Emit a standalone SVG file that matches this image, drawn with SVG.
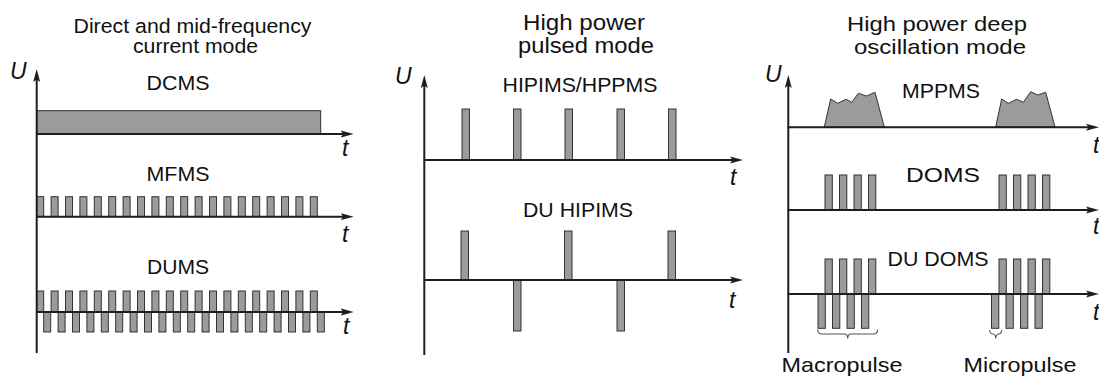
<svg xmlns="http://www.w3.org/2000/svg" width="1099" height="376" viewBox="0 0 1099 376">
<style>
text{font-family:"Liberation Sans",Arial,sans-serif;fill:#111}
.ttl{font-size:20px;text-anchor:middle}
.ttl2{font-size:21.5px;text-anchor:middle}
.ttl3{font-size:21px;text-anchor:middle}
.lbl{font-size:21px;text-anchor:middle}
.var{font-size:23px;font-style:italic}
.ax{stroke:#1e1e1e;stroke-width:2;fill:none}
.ar{marker-end:url(#arr)}
.p{fill:#9b9b9b;stroke:#333;stroke-width:1}
.br{fill:none;stroke:#555;stroke-width:1.1}
</style>
<defs>
<marker id="arr" markerUnits="userSpaceOnUse" markerWidth="14" markerHeight="9" refX="4" refY="4" orient="auto">
<path d="M0,0.5 L13,4 L0,7.5 L2.5,4 z" fill="#1e1e1e"/>
</marker>
</defs>
<rect width="1099" height="376" fill="#fff"/>

<g id="titles">
<text class="ttl" x="192.5" y="33" textLength="238" lengthAdjust="spacingAndGlyphs">Direct and mid-frequency</text>
<text class="ttl" x="195.5" y="53" textLength="125" lengthAdjust="spacingAndGlyphs">current mode</text>
<text class="ttl2" x="584" y="30" textLength="122" lengthAdjust="spacingAndGlyphs">High power</text>
<text class="ttl2" x="586" y="53" textLength="136" lengthAdjust="spacingAndGlyphs">pulsed mode</text>
<text class="ttl3" x="937" y="31" textLength="180" lengthAdjust="spacingAndGlyphs">High power deep</text>
<text class="ttl3" x="940" y="54" textLength="172" lengthAdjust="spacingAndGlyphs">oscillation mode</text>
</g>

<g id="dcms">
<rect class="p" x="36.7" y="110.7" width="284" height="23.3"/>
<text class="lbl" x="178" y="90" textLength="63" lengthAdjust="spacingAndGlyphs">DCMS</text>
</g>

<g id="mfms">
<text class="lbl" x="178" y="181" textLength="63" lengthAdjust="spacingAndGlyphs">MFMS</text>
<rect class="p" x="36.7" y="196.7" width="7" height="20"/>
<rect class="p" x="51.1" y="196.7" width="7" height="20"/>
<rect class="p" x="65.5" y="196.7" width="7" height="20"/>
<rect class="p" x="79.9" y="196.7" width="7" height="20"/>
<rect class="p" x="94.3" y="196.7" width="7" height="20"/>
<rect class="p" x="108.7" y="196.7" width="7" height="20"/>
<rect class="p" x="123.1" y="196.7" width="7" height="20"/>
<rect class="p" x="137.5" y="196.7" width="7" height="20"/>
<rect class="p" x="151.9" y="196.7" width="7" height="20"/>
<rect class="p" x="166.3" y="196.7" width="7" height="20"/>
<rect class="p" x="180.7" y="196.7" width="7" height="20"/>
<rect class="p" x="195.1" y="196.7" width="7" height="20"/>
<rect class="p" x="209.5" y="196.7" width="7" height="20"/>
<rect class="p" x="223.9" y="196.7" width="7" height="20"/>
<rect class="p" x="238.3" y="196.7" width="7" height="20"/>
<rect class="p" x="252.7" y="196.7" width="7" height="20"/>
<rect class="p" x="267.1" y="196.7" width="7" height="20"/>
<rect class="p" x="281.5" y="196.7" width="7" height="20"/>
<rect class="p" x="295.9" y="196.7" width="7" height="20"/>
<rect class="p" x="310.3" y="196.7" width="7" height="20"/>
</g>

<g id="dums">
<text class="lbl" x="178" y="274" textLength="62" lengthAdjust="spacingAndGlyphs">DUMS</text>
<rect class="p" x="36.7" y="291" width="7" height="21"/>
<rect class="p" x="51.1" y="291" width="7" height="21"/>
<rect class="p" x="65.5" y="291" width="7" height="21"/>
<rect class="p" x="79.9" y="291" width="7" height="21"/>
<rect class="p" x="94.3" y="291" width="7" height="21"/>
<rect class="p" x="108.7" y="291" width="7" height="21"/>
<rect class="p" x="123.1" y="291" width="7" height="21"/>
<rect class="p" x="137.5" y="291" width="7" height="21"/>
<rect class="p" x="151.9" y="291" width="7" height="21"/>
<rect class="p" x="166.3" y="291" width="7" height="21"/>
<rect class="p" x="180.7" y="291" width="7" height="21"/>
<rect class="p" x="195.1" y="291" width="7" height="21"/>
<rect class="p" x="209.5" y="291" width="7" height="21"/>
<rect class="p" x="223.9" y="291" width="7" height="21"/>
<rect class="p" x="238.3" y="291" width="7" height="21"/>
<rect class="p" x="252.7" y="291" width="7" height="21"/>
<rect class="p" x="267.1" y="291" width="7" height="21"/>
<rect class="p" x="281.5" y="291" width="7" height="21"/>
<rect class="p" x="295.9" y="291" width="7" height="21"/>
<rect class="p" x="310.3" y="291" width="7" height="21"/>
<rect class="p" x="43.7" y="312" width="7" height="20"/>
<rect class="p" x="58.1" y="312" width="7" height="20"/>
<rect class="p" x="72.5" y="312" width="7" height="20"/>
<rect class="p" x="86.9" y="312" width="7" height="20"/>
<rect class="p" x="101.3" y="312" width="7" height="20"/>
<rect class="p" x="115.7" y="312" width="7" height="20"/>
<rect class="p" x="130.1" y="312" width="7" height="20"/>
<rect class="p" x="144.5" y="312" width="7" height="20"/>
<rect class="p" x="158.9" y="312" width="7" height="20"/>
<rect class="p" x="173.3" y="312" width="7" height="20"/>
<rect class="p" x="187.7" y="312" width="7" height="20"/>
<rect class="p" x="202.1" y="312" width="7" height="20"/>
<rect class="p" x="216.5" y="312" width="7" height="20"/>
<rect class="p" x="230.9" y="312" width="7" height="20"/>
<rect class="p" x="245.3" y="312" width="7" height="20"/>
<rect class="p" x="259.7" y="312" width="7" height="20"/>
<rect class="p" x="274.1" y="312" width="7" height="20"/>
<rect class="p" x="288.5" y="312" width="7" height="20"/>
<rect class="p" x="302.9" y="312" width="7" height="20"/>
<rect class="p" x="317.3" y="312" width="7" height="20"/>
</g>

<g id="hipims">
<text class="lbl" x="580" y="92" textLength="155" lengthAdjust="spacingAndGlyphs">HIPIMS/HPPMS</text>
<rect class="p" x="462" y="109" width="7.5" height="51"/>
<rect class="p" x="513.5" y="109" width="7.5" height="51"/>
<rect class="p" x="565" y="109" width="7.5" height="51"/>
<rect class="p" x="617" y="109" width="7.5" height="51"/>
<rect class="p" x="668.5" y="109" width="7.5" height="51"/>
</g>

<g id="du-hipims">
<text class="lbl" x="578" y="217" textLength="110" lengthAdjust="spacingAndGlyphs">DU HIPIMS</text>
<rect class="p" x="461" y="231" width="7.5" height="49"/>
<rect class="p" x="564.5" y="231" width="7.5" height="49"/>
<rect class="p" x="668" y="231" width="7.5" height="49"/>
<rect class="p" x="513.5" y="280" width="7.5" height="51"/>
<rect class="p" x="617" y="280" width="7.5" height="51"/>
</g>

<g id="mppms">
<text class="lbl" x="941" y="98" textLength="78" lengthAdjust="spacingAndGlyphs">MPPMS</text>
<polygon class="p" points="824.3,127 830.7,99 837.7,103.3 846,99.3 851.7,102.3 858.3,93.3 866.7,96 875,92.3 884.3,127"/>
<polygon class="p" points="995.7,127 1001.7,99 1008.3,103.3 1016.7,99.3 1023.3,102.3 1030.7,91.7 1037.7,95 1045.7,92.3 1055,127"/>
</g>

<g id="doms">
<text class="lbl" x="943" y="182" textLength="74" lengthAdjust="spacingAndGlyphs">DOMS</text>
<rect class="p" x="825" y="175" width="7.3" height="35"/>
<rect class="p" x="839.5" y="175" width="7.3" height="35"/>
<rect class="p" x="854" y="175" width="7.3" height="35"/>
<rect class="p" x="868.5" y="175" width="7.3" height="35"/>
<rect class="p" x="999" y="175" width="7.3" height="35"/>
<rect class="p" x="1013.5" y="175" width="7.3" height="35"/>
<rect class="p" x="1028" y="175" width="7.3" height="35"/>
<rect class="p" x="1042.5" y="175" width="7.3" height="35"/>
</g>

<g id="du-doms">
<text class="lbl" x="938" y="266" textLength="101" lengthAdjust="spacingAndGlyphs">DU DOMS</text>
<rect class="p" x="825" y="259" width="7.3" height="35"/>
<rect class="p" x="839.5" y="259" width="7.3" height="35"/>
<rect class="p" x="854" y="259" width="7.3" height="35"/>
<rect class="p" x="868.5" y="259" width="7.3" height="35"/>
<rect class="p" x="999" y="259" width="7.3" height="35"/>
<rect class="p" x="1013.5" y="259" width="7.3" height="35"/>
<rect class="p" x="1028" y="259" width="7.3" height="35"/>
<rect class="p" x="1042.5" y="259" width="7.3" height="35"/>
<rect class="p" x="818" y="294" width="7.3" height="34.3"/>
<rect class="p" x="832.5" y="294" width="7.3" height="34.3"/>
<rect class="p" x="847" y="294" width="7.3" height="34.3"/>
<rect class="p" x="861.5" y="294" width="7.3" height="34.3"/>
<rect class="p" x="991.5" y="294" width="7.3" height="34.3"/>
<rect class="p" x="1006" y="294" width="7.3" height="34.3"/>
<rect class="p" x="1020.5" y="294" width="7.3" height="34.3"/>
<rect class="p" x="1035" y="294" width="7.3" height="34.3"/>
</g>

<g id="connectors">
<line class="ax ar" x1="36.7" y1="353" x2="36.7" y2="78"/>
<line class="ax ar" x1="36" y1="134" x2="344.7" y2="134"/>
<line class="ax ar" x1="36" y1="216.7" x2="344.7" y2="216.7"/>
<line class="ax ar" x1="36" y1="312" x2="344.7" y2="312"/>
<line class="ax ar" x1="424.3" y1="355" x2="424.3" y2="84"/>
<line class="ax ar" x1="423.5" y1="160" x2="734" y2="160"/>
<line class="ax ar" x1="423.5" y1="280" x2="734" y2="280"/>
<line class="ax ar" x1="788.3" y1="353" x2="788.3" y2="84"/>
<line class="ax ar" x1="787.5" y1="127.3" x2="1090" y2="127.3"/>
<line class="ax ar" x1="787.5" y1="210" x2="1090" y2="210"/>
<line class="ax ar" x1="787.5" y1="294" x2="1090" y2="294"/>
<path class="br" d="M817.5,329.5 Q818,334 822,334 L844.5,334 Q847.5,334 847.7,338.5 Q848,334 851,334 L873.5,334 Q877.5,334 877.7,329.5"/>
<path class="br" d="M989.5,330 Q990,334 993,334 Q995.5,334.3 995.7,338.5 Q996,334.3 998.5,334 Q1001.5,334 1001.7,330"/>
</g>

<g id="axis-labels">
<text class="var" x="10" y="79">U</text>
<text class="var" x="395" y="84">U</text>
<text class="var" x="765" y="82">U</text>
<text class="var" x="342" y="156">t</text>
<text class="var" x="342" y="242">t</text>
<text class="var" x="343" y="334">t</text>
<text class="var" x="730" y="185">t</text>
<text class="var" x="729" y="308">t</text>
<text class="var" x="1093" y="153">t</text>
<text class="var" x="1093" y="234">t</text>
<text class="var" x="1093" y="320">t</text>
</g>

<g id="pulse-labels">
<text class="lbl" x="842" y="372" textLength="121" lengthAdjust="spacingAndGlyphs">Macropulse</text>
<text class="lbl" x="1020" y="372" textLength="113" lengthAdjust="spacingAndGlyphs">Micropulse</text>
</g>
</svg>
